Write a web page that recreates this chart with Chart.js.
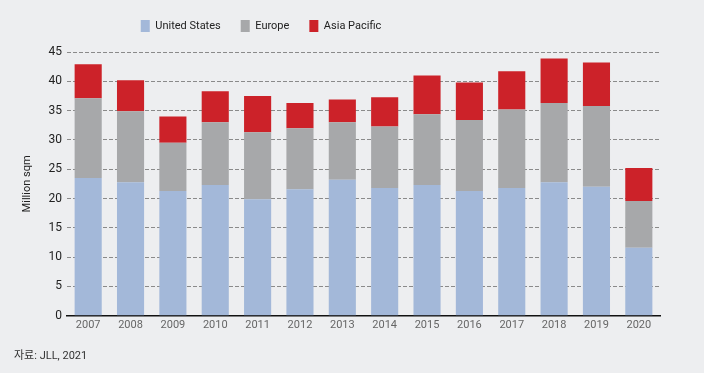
<!DOCTYPE html>
<html>
<head>
<meta charset="utf-8">
<script src="https://cdn.jsdelivr.net/npm/chart.js@4"></script>
<style>
  html, body { margin:0; padding:0; background:#edeef0; }
  #wrap { position:relative; width:704px; height:373px; }
  #note { position:absolute; left:14px; top:346px; font:11px "Roboto", "Noto Sans CJK KR", sans-serif; color:#333; }
</style>
</head>
<body>
<div id="wrap">
  <canvas id="chart" width="704" height="373"></canvas>
  <div id="note">자료: JLL, 2021</div>
</div>
<script>
// datos (millones de m2)
const years = ['2007','2008','2009','2010','2011','2012','2013','2014','2015','2016','2017','2018','2019','2020'];
const unitedStates = [23.5, 22.8, 21.3, 22.3, 19.9, 21.6, 23.2, 21.8, 22.3, 21.3, 21.8, 22.8, 22.0, 11.6];
const europe       = [13.6, 12.1, 8.2, 10.7, 11.4, 10.4, 9.8, 10.5, 12.1, 12.1, 13.4, 13.5, 13.8, 8.0];
const asiaPacific  = [5.8, 5.3, 4.5, 5.3, 6.2, 4.3, 3.9, 5.0, 6.6, 6.4, 6.5, 7.6, 7.4, 5.6];

const fuente = 'Roboto, sans-serif';

// leyenda: mas aire abajo y corrida hacia la izquierda como en el original
const ajusteLeyenda = {
  id: 'ajusteLeyenda',
  beforeInit(chart) {
    const fitOrig = chart.legend.fit;
    chart.legend.fit = function () {
      fitOrig.call(this);
      this.height += 10;
    };
  },
  afterLayout(chart) {
    const lg = chart.legend;
    const centro = (lg.left + lg.right) / 2;
    const delta = 261 - centro;
    lg.left += delta;
    lg.right += delta;
  }
};

new Chart(document.getElementById('chart'), {
  type: 'bar',
  data: {
    labels: years,
    datasets: [
      { label: 'United States', data: unitedStates, backgroundColor: '#a3b8d9' },
      { label: 'Europe', data: europe, backgroundColor: '#a7a8aa' },
      { label: 'Asia Pacific', data: asiaPacific, backgroundColor: '#cc2229' }
    ]
  },
  plugins: [ajusteLeyenda],
  options: {
    responsive: false,
    animation: false,
    layout: { padding: { top: 0, right: 44, left: 17, bottom: 38 } },
    datasets: { bar: { categoryPercentage: 1, barPercentage: 0.64 } },
    plugins: {
      legend: {
        position: 'top',
        labels: { boxWidth: 9, boxHeight: 12, padding: 20, color: '#222', font: { family: fuente, size: 11 } }
      },
      tooltip: { enabled: false }
    },
    scales: {
      x: {
        stacked: true,
        grid: { display: false, drawTicks: false },
        border: { display: true, color: '#111', width: 1.5 },
        ticks: { color: '#666', font: { family: fuente, size: 11 }, padding: 3 }
      },
      y: {
        stacked: true,
        min: 0, max: 45,
        afterFit: (s) => { s.width = 50; },
        grid: { color: '#8a8a8a', drawTicks: false, lineWidth: 1 },
        border: { display: false, dash: [4, 2] },
        ticks: { stepSize: 5, color: '#222', padding: 5, font: { family: fuente, size: 12 } },
        title: { display: true, text: 'Million sqm', color: '#222', font: { family: fuente, size: 11 }, padding: 4 }
      }
    }
  }
});
</script>
</body>
</html>
